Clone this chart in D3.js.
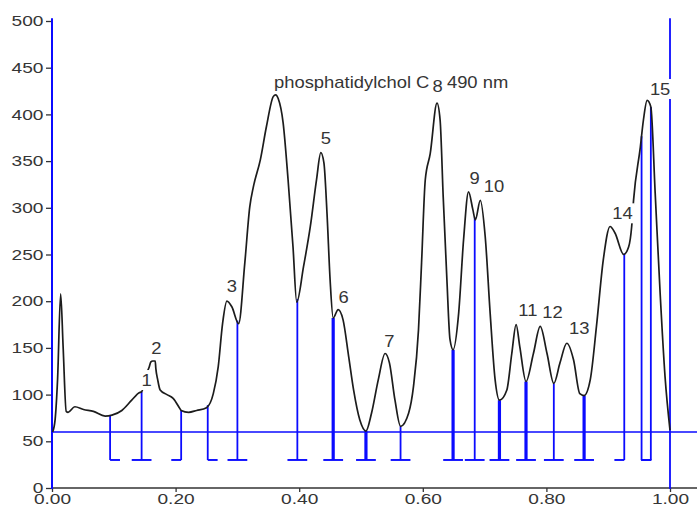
<!DOCTYPE html>
<html><head><meta charset="utf-8">
<script src="https://cdn.jsdelivr.net/npm/d3@7"></script>
<style>
html,body{margin:0;padding:0;background:#fff;}
svg{display:block;font-family:"Liberation Sans",Arial,sans-serif;}
</style></head><body>
<svg id="chart" width="697" height="506"></svg>
<script>
// Detector trace: retention (fraction of run) and response
const traceX = [0.001,0.005,0.009,0.014,0.018,0.023,0.026,0.037,0.051,0.067,0.086,0.097,0.113,0.129,0.141,0.145,
  0.152,0.157,0.160,0.163,0.167,0.168,0.171,0.175,0.186,0.196,0.207,0.209,0.221,0.234,0.250,0.261,0.269,0.276,0.283,0.291,
  0.302,0.312,0.320,0.326,0.337,0.347,0.358,0.362,0.366,0.374,0.382,0.390,0.396,0.407,0.418,0.428,0.435,0.440,
  0.445,0.450,0.455,0.463,0.471,0.480,0.488,0.498,0.508,0.517,0.528,0.539,0.546,0.555,0.564,0.577,0.585,0.593,
  0.598,0.604,0.612,0.623,0.628,0.633,0.639,0.644,0.649,0.658,0.666,0.674,0.681,0.685,0.693,0.701,0.709,0.717,
  0.724,0.736,0.744,0.751,0.757,0.767,0.779,0.790,0.801,0.812,0.822,0.833,0.844,0.854,0.861,0.871,0.881,0.892,
  0.903,0.911,0.925,0.933,0.938,0.941,0.952,0.957,0.963,0.969,0.976,0.984,0.992,1.000];
const traceY = [60,73,116,208,151,82,81,87,84,82,77,78,83,94,102,103,
  121,129,135,136,136,128,116,105,100,96,85,83,81,83,86,101,130,176,200,194,
  176,241,301,323,351,387,419,421,417,391,330,258,199,237,280,330,359,348,
  294,223,182,191,180,141,105,73,61,80,116,144,134,94,66,80,109,169,
  241,330,358,412,394,312,223,159,148,187,266,317,298,287,308,269,187,116,
  94,105,144,175,151,114,144,173,144,112,134,155,137,101,99,116,173,244,
  280,273,250,258,280,308,365,394,415,408,316,209,119,62];

// Peak numbers and where they sit
const peakLabels = ["1","2","3","5","6","7","8","9","10","11","12","13","14","15"];
const peakLabelX = [0.153,0.169,0.291,0.443,0.472,0.546,0.624,0.684,0.715,0.770,0.810,0.853,0.923,0.984];
const peakLabelY = [115.6,149.9,215.5,374.4,204.2,157.4,430.4,331.6,322.6,190.6,188.4,171.0,294.1,427.2];
const peakLabelBg = [true,true,true,true,true,true,false,true,true,true,true,true,true,true];

// Integration events: drop position, foot type (R = start, L = end, T = end + start), bold marker
const dropX = [0.094,0.145,0.209,0.252,0.300,0.397,0.455,0.508,0.564,0.649,0.684,0.724,0.767,0.812,0.861,0.926,0.954,0.969];
const dropFoot = ["R","T","L","R","T","T","T","T","T","T","T","T","T","T","T","L","R","L"];
const dropBold = [false,false,false,false,false,false,true,true,false,true,false,true,true,false,true,false,false,false];

const baselineValue = 60;
const footValue = 30;
const runEnd = 1.0;

const yTicks = [0,50,100,150,200,250,300,350,400,450,500];
const xTicks = [0,0.2,0.4,0.6,0.8,1.0];
const titleMain = "phosphatidylchol C";
const titleWave = "490 nm";

const svg = d3.select("#chart");
const x = d3.scaleLinear().domain([0, 1]).range([52, 670]);
const y = d3.scaleLinear().domain([0, 500]).range([488, 21]);
const BLUE = "#0b0bff";
const INK = "#353535";
const TSX = 1.32;

// Y axis (blue spine, dark ticks)
const yAxis = d3.axisLeft(y).tickValues(yTicks).tickSize(6).tickPadding(2.5).tickFormat(d3.format("d"));
const gy = svg.append("g").attr("transform", "translate(52,0)").call(yAxis);
gy.select(".domain").remove();
gy.selectAll(".tick line").attr("stroke", "#333").attr("stroke-width", 1.3);
gy.selectAll(".tick text")
  .attr("fill", INK).style("font-size", "14.5px").attr("font-family", "Liberation Sans, Arial, sans-serif")
  .attr("x", -8.5 / TSX).attr("transform", `scale(${TSX},1)`);

// X axis
const xAxis = d3.axisBottom(x).tickValues(xTicks).tickSize(4).tickPadding(2).tickFormat(d3.format(".2f"));
const gx = svg.append("g").attr("transform", "translate(0,488)").call(xAxis);
gx.select(".domain").remove();
gx.selectAll(".tick line").attr("stroke", "#333").attr("stroke-width", 1.3);
gx.selectAll(".tick text")
  .attr("fill", INK).style("font-size", "14.5px").attr("font-family", "Liberation Sans, Arial, sans-serif")
  .attr("transform", `scale(${TSX},1)`);
svg.append("line").attr("x1", 52).attr("x2", 697).attr("y1", y(0)).attr("y2", y(0))
  .attr("stroke", "#333").attr("stroke-width", 1.6);

// Blue y spine
svg.append("line").attr("x1", x(0)).attr("x2", x(0)).attr("y1", y(503)).attr("y2", y(0) + 1)
  .attr("stroke", BLUE).attr("stroke-width", 2);

// Baseline of the integration
svg.append("line").attr("x1", x(0)).attr("x2", 697).attr("y1", y(baselineValue)).attr("y2", y(baselineValue))
  .attr("stroke", BLUE).attr("stroke-width", 1.6);

// End-of-run marker
svg.append("line").attr("x1", x(runEnd)).attr("x2", x(runEnd)).attr("y1", y(503)).attr("y2", y(0) + 1)
  .attr("stroke", BLUE).attr("stroke-width", 1.8);

// Response at a given retention
const bis = d3.bisector(d => d).left;
function traceAt(v) {
  let i = bis(traceX, v);
  if (i <= 0) return traceY[0];
  if (i >= traceX.length) return traceY[traceY.length - 1];
  const t = (v - traceX[i - 1]) / (traceX[i] - traceX[i - 1]);
  return traceY[i - 1] + t * (traceY[i] - traceY[i - 1]);
}

// Drop lines with their feet
const footHalf = 0.016;
const drops = svg.append("g").attr("stroke", BLUE).attr("fill", "none");
dropX.forEach((dx, i) => {
  const w = dropBold[i] ? 3.2 : 1.8;
  drops.append("line").attr("x1", x(dx)).attr("x2", x(dx))
    .attr("y1", y(traceAt(dx))).attr("y2", y(footValue)).attr("stroke-width", w);
  const f = dropFoot[i];
  const a = f === "R" ? dx : dx - footHalf;
  const b = f === "L" ? dx : dx + footHalf;
  drops.append("line").attr("x1", x(a)).attr("x2", x(b))
    .attr("y1", y(footValue)).attr("y2", y(footValue)).attr("stroke-width", 1.9);
});

// Trace
const pts = traceX.map((v, i) => [v, traceY[i]]);
svg.append("path").datum(pts)
  .attr("d", d3.line().x(d => x(d[0])).y(d => y(d[1])).curve(d3.curveMonotoneX))
  .attr("fill", "none").attr("stroke", "#1c1c1c").attr("stroke-width", 1.7).attr("stroke-linejoin", "round");

// Title
const SX = 1.15;
function stretchedText(g, px, py, str, anchor) {
  return g.append("text").attr("transform", `translate(${px},${py}) scale(${SX},1)`)
    .attr("text-anchor", anchor).attr("fill", INK).style("font-size", "16px").text(str);
}
stretchedText(svg, x(0.3592), y(428.3), titleMain, "start");
stretchedText(svg, x(0.639), y(428.3), titleWave, "start");

// Peak numbers on white
const lab = svg.append("g");
peakLabels.forEach((s, i) => {
  const cx = x(peakLabelX[i]), cy = y(peakLabelY[i]);
  const g = lab.append("g");
  const t = stretchedText(g, cx, cy, s, "middle").attr("dy", "0.36em");
  if (peakLabelBg[i]) {
    const w = t.node().getComputedTextLength() * SX + 4;
    g.insert("rect", "text").attr("x", cx - w / 2).attr("y", cy - 10).attr("width", w).attr("height", 20).attr("fill", "#fff");
  }
});
</script>
</body></html>
